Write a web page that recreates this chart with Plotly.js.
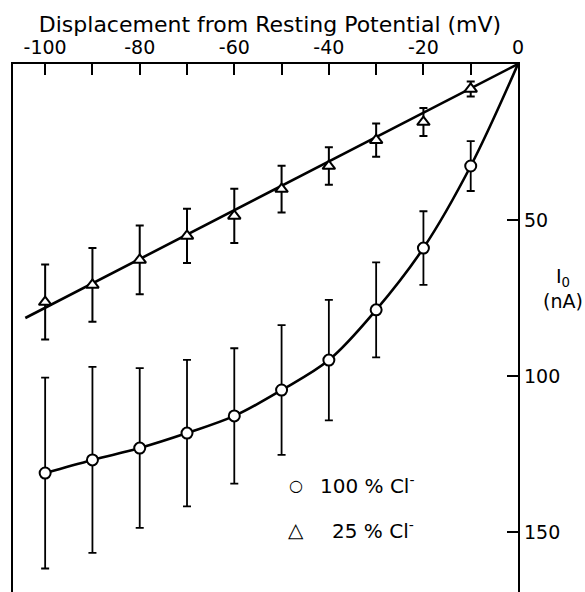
<!DOCTYPE html>
<html>
<head>
<meta charset="utf-8">
<script src="https://cdn.plot.ly/plotly-3.0.1.min.js"></script>
<style>html,body{margin:0;padding:0;background:#fff;}#chart{width:585px;height:592px;}</style>
</head>
<body>
<div id="chart"></div>
<script>
// Displacement from resting potential (mV)
const displacement = [-10, -20, -30, -40, -50, -60, -70, -80, -90, -100];

// 100 % Cl- : I0 (nA) and error
const cl100 = [32.7, 59.0, 78.8, 94.9, 104.5, 112.8, 118.3, 123.1, 126.9, 131.1];
const cl100Err = [8.0, 11.8, 15.2, 19.3, 20.8, 21.7, 23.5, 25.6, 29.8, 30.6];

// 25 % Cl- : I0 (nA) and error
const cl25 = [8.0, 18.6, 24.4, 32.7, 40.1, 48.7, 55.1, 62.8, 70.8, 76.3];
const cl25Err = [2.4, 4.5, 5.3, 6.0, 7.5, 8.7, 8.7, 11.0, 11.8, 12.0];

// smooth curve through 100 % Cl- points (starts at origin)
const curve100X = [0, -10, -20, -30, -40, -50, -60, -70, -80, -90, -100];
const curve100Y = [0, 32.7, 59.0, 78.8, 94.9, 104.5, 112.8, 118.3, 123.1, 126.9, 131.1];

// straight fitted line for 25 % Cl-
const line25X = [0, -104.2];
const line25Y = [0, 81.4];

const xTicks = [-100, -80, -60, -40, -20, 0];
const xTickText = ['-100', '-80', '-60', '-40', '-20', '0'];
const xMinorTicks = [-90, -70, -50, -30, -10];
const yTicks = [50, 100, 150];

const FONT = 'DejaVu Sans, Liberation Sans, sans-serif';

const traces = [
  {x: curve100X, y: curve100Y, mode: 'lines', line: {shape: 'spline', smoothing: 1, color: '#000', width: 2.6}, hoverinfo: 'skip', showlegend: false},
  {x: line25X, y: line25Y, mode: 'lines', line: {color: '#000', width: 2.6}, hoverinfo: 'skip', showlegend: false},
  {x: displacement, y: cl100, mode: 'markers', name: '100 % Cl-',
   marker: {symbol: 'circle', size: 11, color: '#fff', line: {color: '#000', width: 2}},
   error_y: {type: 'data', array: cl100Err, visible: true, color: '#000', thickness: 1.8, width: 4},
   showlegend: false},
  {x: displacement, y: cl25, mode: 'markers', name: '25 % Cl-',
   marker: {symbol: 'triangle-up', size: 11, color: '#fff', line: {color: '#000', width: 2}},
   error_y: {type: 'data', array: cl25Err, visible: true, color: '#000', thickness: 2, width: 4},
   showlegend: false}
];

const L = 13, R = 518, T = 64, B = 592;
function px(xp){ return (xp - L) / (R - L); }
function py(yp){ return 1 - (yp - T) / (B - T); }

const layout = {
  width: 585, height: 592,
  margin: {l: L, r: 585 - R, t: T, b: 0, pad: 0},
  paper_bgcolor: '#fff', plot_bgcolor: '#fff',
  font: {family: FONT, color: '#000', size: 19},
  title: {text: 'Displacement from Resting Potential (mV)', font: {family: FONT, size: 22, color: '#000'},
          x: 270/585, xanchor: 'center', xref: 'container', y: 1 - 24/592, yanchor: 'middle', yref: 'container'},
  xaxis: {side: 'top', range: [-106.8, 0], showgrid: false, zeroline: false,
          showline: true, linecolor: '#000', linewidth: 2.2,
          ticks: 'inside', ticklen: 11, tickwidth: 2, tickcolor: '#000',
          tickvals: xTicks, ticktext: xTickText, tickfont: {family: FONT, size: 19},
          minor: {tickvals: xMinorTicks, ticks: 'inside', ticklen: 11, tickwidth: 2, tickcolor: '#000', showgrid: false}},
  yaxis: {side: 'right', range: [(B - T) / 3.12, 0], showgrid: false, zeroline: false,
          showline: true, linecolor: '#000', linewidth: 2.2, mirror: true,
          ticks: 'inside', ticklen: 11, tickwidth: 2, tickcolor: '#000',
          tickvals: yTicks, tickfont: {family: FONT, size: 19}},
  annotations: [
    {xref: 'paper', yref: 'paper', x: px(563), y: py(288), text: 'I<sub>0</sub><br>(nA)', showarrow: false,
     font: {family: FONT, size: 19}, xanchor: 'center', yanchor: 'middle', align: 'center'},
    {xref: 'paper', yref: 'paper', x: px(296), y: py(485), text: '○', showarrow: false,
     font: {family: FONT, size: 16}, xanchor: 'center', yanchor: 'middle'},
    {xref: 'paper', yref: 'paper', x: px(416), y: py(485), text: '100 % Cl<sup>-</sup>', showarrow: false,
     font: {family: FONT, size: 20}, xanchor: 'right', yanchor: 'middle'},
    {xref: 'paper', yref: 'paper', x: px(296), y: py(530), text: '△', showarrow: false,
     font: {family: FONT, size: 20}, xanchor: 'center', yanchor: 'middle'},
    {xref: 'paper', yref: 'paper', x: px(416), y: py(530), text: '25 % Cl<sup>-</sup>', showarrow: false,
     font: {family: FONT, size: 20}, xanchor: 'right', yanchor: 'middle'}
  ]
};

Plotly.newPlot('chart', traces, layout, {displayModeBar: false, staticPlot: true});
</script>
</body>
</html>
